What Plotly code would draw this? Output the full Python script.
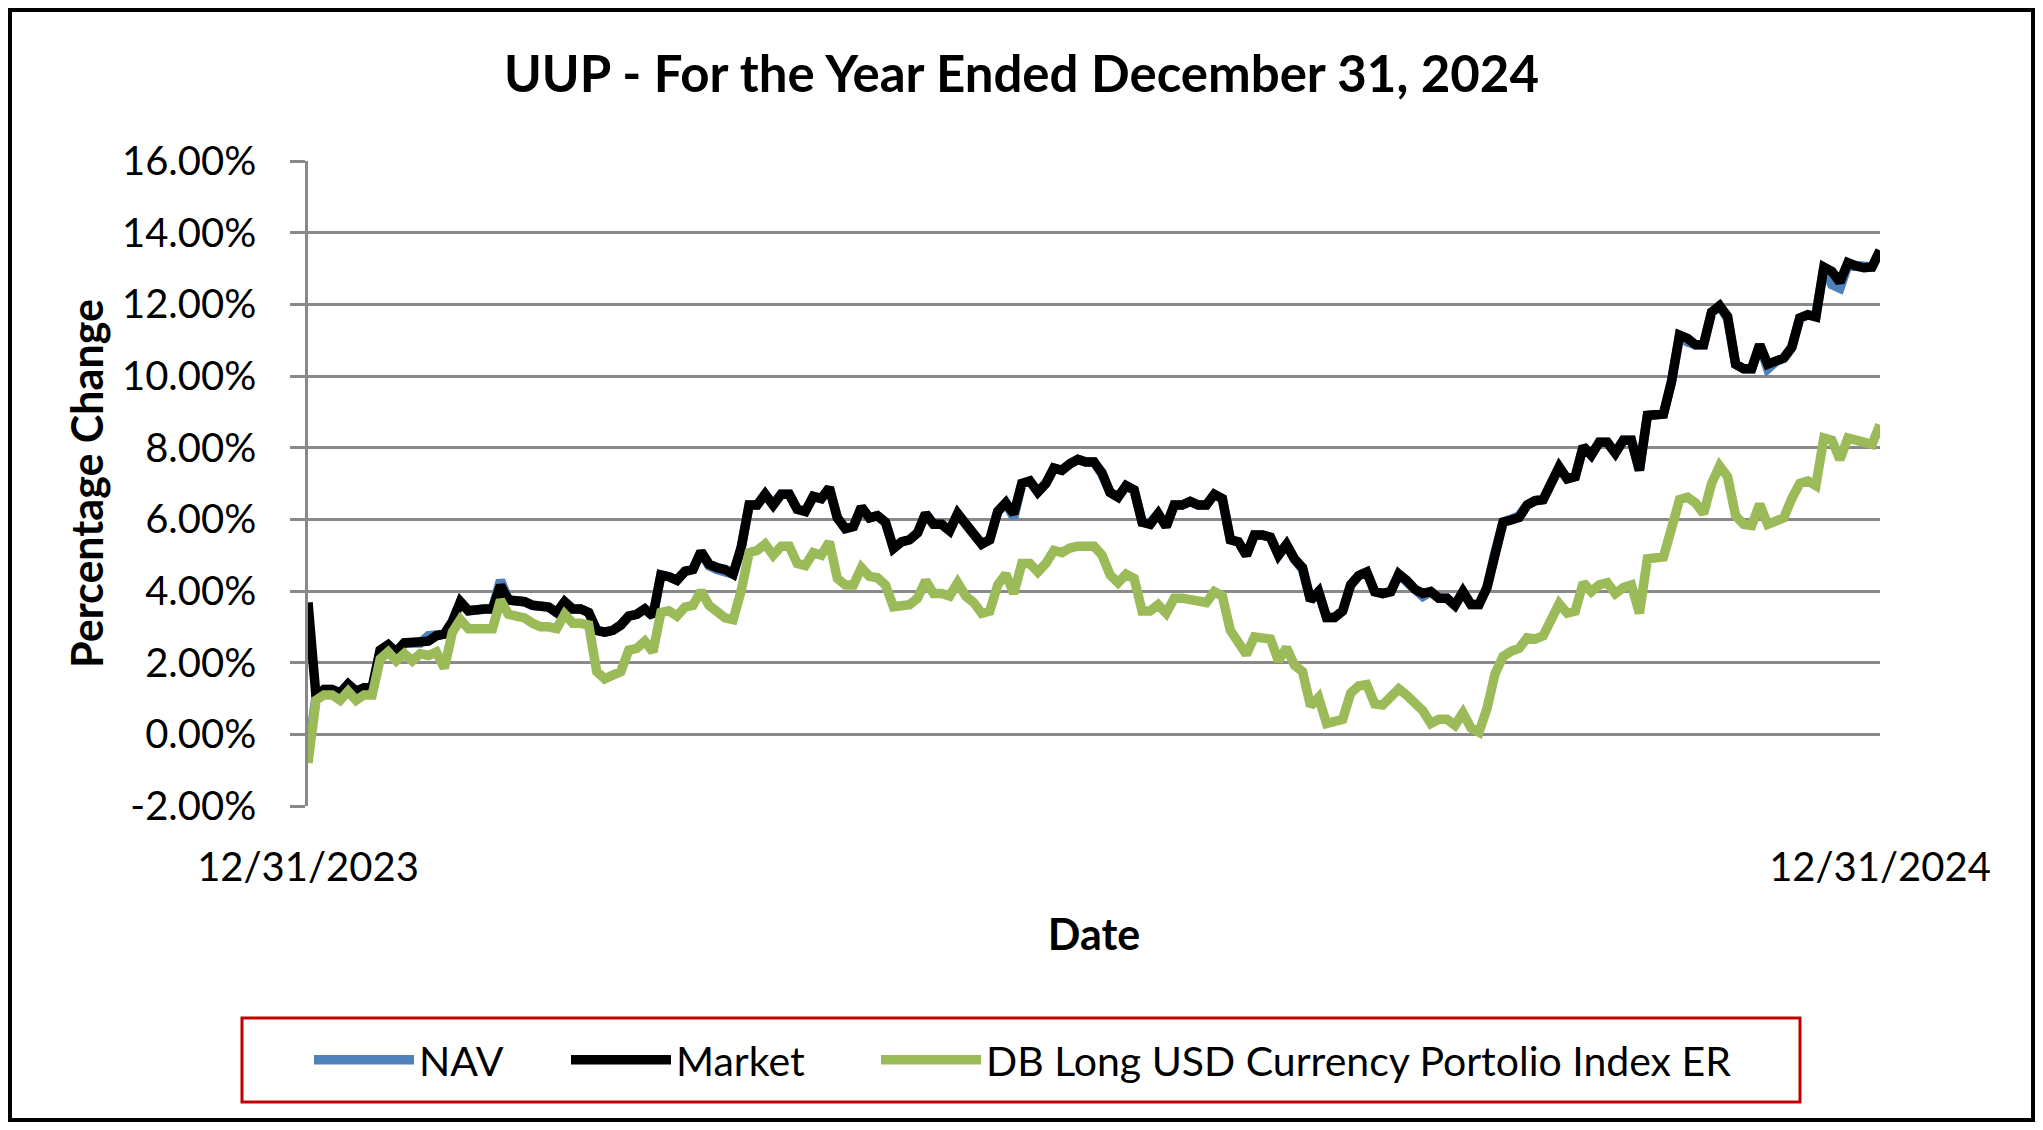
import plotly.graph_objects as go
import pandas as pd

title_text = "UUP - For the Year Ended December 31, 2024"
x_tick_labels = ["12/31/2023", "12/31/2024"]
y_ticks = [-2, 0, 2, 4, 6, 8, 10, 12, 14, 16]
y_tick_labels = ["%.2f%%" % v for v in y_ticks]

market = [
    3.68, 1.05, 1.25, 1.25, 1.15, 1.40, 1.20, 1.30, 1.30, 2.35,
    2.50, 2.30, 2.55, 2.55, 2.55, 2.60, 2.75, 2.80, 3.15, 3.70,
    3.45, 3.50, 3.50, 3.50, 4.15, 3.75, 3.75, 3.70, 3.60, 3.55,
    3.55, 3.40, 3.70, 3.50, 3.50, 3.40, 2.90, 2.85, 2.90, 3.05,
    3.30, 3.35, 3.50, 3.30, 4.45, 4.40, 4.30, 4.55, 4.60, 5.10,
    4.75, 4.65,
    4.60, 4.47, 5.20, 6.40, 6.40, 6.70, 6.40, 6.70, 6.70, 6.28,
    6.22, 6.64, 6.58, 6.88, 6.04, 5.74, 5.80, 6.34, 6.04, 6.10,
    5.92, 5.19, 5.37, 5.43, 5.62, 6.16, 5.86, 5.86, 5.68, 6.16,
    5.86, 5.62, 5.31, 5.43, 6.22, 6.46, 6.16, 7.00, 7.07, 6.76,
    7.00, 7.43, 7.37, 7.55, 7.67, 7.60, 7.60, 7.30, 6.75, 6.62,
    6.94, 6.82, 5.92, 5.86, 6.16, 5.80, 6.40, 6.40, 6.50, 6.40,
    6.40, 6.70, 6.58, 5.43, 5.37, 5.00, 5.56, 5.56, 5.50, 5.00,
    5.30, 4.89, 4.65, 3.74, 3.98, 3.26, 3.26, 3.44, 4.17, 4.43,
    4.53, 3.98, 3.93, 3.98, 4.47, 4.29, 4.05, 3.93, 3.98, 3.80,
    3.80, 3.60, 3.98, 3.62, 3.62, 4.10, 5.07, 5.92, 5.98, 6.05,
    6.40, 6.52, 6.55, 7.07, 7.46, 7.13, 7.19, 8.03, 7.79, 8.15,
    8.15, 7.85, 8.21, 8.21, 7.37, 8.90, 8.94, 8.94, 9.84, 11.14,
    11.05, 10.87, 10.87, 11.78, 11.96, 11.66, 10.33, 10.20, 10.20, 10.87,
    10.33, 10.45, 10.50, 10.80, 11.62, 11.71, 11.65, 13.04, 12.92, 12.62,
    13.16, 13.07, 13.02, 13.04, 13.50,
]

nav = [
    -0.60, 1.05, 1.25, 1.25, 1.15, 1.40, 1.20, 1.30, 1.30, 2.35,
    2.50, 2.30, 2.55, 2.55, 2.55, 2.75, 2.75, 2.80, 3.15, 3.70,
    3.45, 3.50, 3.50, 3.50, 4.30, 3.75, 3.75, 3.70, 3.60, 3.55,
    3.55, 3.40, 3.70, 3.50, 3.50, 3.40, 2.90, 2.85, 2.90, 3.05,
    3.30, 3.35, 3.50, 3.30, 4.45, 4.40, 4.30, 4.55, 4.60, 5.10,
    4.70, 4.60,
    4.55, 4.47, 5.20, 6.40, 6.40, 6.70, 6.40, 6.70, 6.70, 6.28,
    6.22, 6.64, 6.58, 6.88, 6.04, 5.74, 5.80, 6.34, 6.04, 6.10,
    5.92, 5.19, 5.37, 5.43, 5.62, 6.16, 5.86, 5.86, 5.68, 6.16,
    5.86, 5.62, 5.31, 5.43, 6.22, 6.46, 6.05, 7.00, 7.07, 6.76,
    7.00, 7.43, 7.37, 7.55, 7.67, 7.60, 7.60, 7.25, 6.75, 6.62,
    6.94, 6.82, 5.92, 5.90, 6.16, 5.80, 6.40, 6.40, 6.50, 6.40,
    6.40, 6.70, 6.58, 5.43, 5.37, 5.00, 5.56, 5.56, 5.50, 5.00,
    5.30, 4.89, 4.60, 3.74, 3.98, 3.26, 3.26, 3.44, 4.17, 4.43,
    4.53, 3.98, 3.93, 3.98, 4.47, 4.25, 4.05, 3.85, 3.98, 3.80,
    3.80, 3.60, 3.98, 3.62, 3.62, 4.10, 5.07, 5.92, 6.00, 6.10,
    6.40, 6.52, 6.55, 7.07, 7.46, 7.13, 7.19, 8.03, 7.79, 8.15,
    8.15, 7.85, 8.21, 8.21, 7.37, 8.90, 8.94, 8.94, 9.84, 11.10,
    10.95, 10.87, 10.87, 11.78, 11.96, 11.60, 10.33, 10.20, 10.20, 10.87,
    10.20, 10.40, 10.50, 10.80, 11.62, 11.71, 11.65, 13.04, 12.55, 12.45,
    13.10, 13.07, 13.02, 13.04, 13.50,
]

index_er = [
    -0.80, 0.95, 1.10, 1.10, 0.95, 1.20, 0.95, 1.10, 1.10, 2.10,
    2.30, 2.05, 2.25, 2.05, 2.25, 2.20, 2.30, 1.85, 2.85, 3.20,
    2.95, 2.95, 2.95, 2.95, 3.75, 3.35, 3.30, 3.25, 3.10, 3.00,
    3.00, 2.95, 3.35, 3.10, 3.10, 3.05, 1.75, 1.55, 1.65, 1.75,
    2.35, 2.40, 2.60, 2.30, 3.40, 3.45, 3.30, 3.55, 3.60, 4.00,
    3.60, 3.45,
    3.25, 3.20, 4.00, 5.07, 5.13, 5.31, 5.00, 5.25, 5.25, 4.77,
    4.71, 5.07, 5.00, 5.37, 4.35, 4.17, 4.17, 4.65, 4.41, 4.37,
    4.17, 3.56, 3.56, 3.62, 3.80, 4.29, 3.93, 3.93, 3.86, 4.23,
    3.86, 3.68, 3.38, 3.44, 4.17, 4.47, 3.93, 4.77, 4.77, 4.53,
    4.77, 5.13, 5.07, 5.20, 5.25, 5.25, 5.25, 5.00, 4.45, 4.23,
    4.47, 4.35, 3.44, 3.44, 3.62, 3.38, 3.80, 3.80, 3.74, 3.68,
    3.68, 3.98, 3.86, 2.90, 2.60, 2.23, 2.72, 2.66, 2.66, 2.05,
    2.42, 1.93, 1.75, 0.79, 1.03, 0.30, 0.36, 0.42, 1.15, 1.35,
    1.39, 0.85, 0.82, 1.03, 1.27, 1.09, 0.85, 0.66, 0.30, 0.42,
    0.42, 0.25, 0.60, 0.18, 0.06, 0.72, 1.69, 2.17, 2.32, 2.40,
    2.69, 2.66, 2.75, 3.26, 3.65, 3.38, 3.44, 4.23, 3.98, 4.17,
    4.23, 3.93, 4.10, 4.17, 3.38, 4.90, 4.90, 4.95, 5.74, 6.55,
    6.62, 6.46, 6.16, 7.00, 7.49, 7.19, 6.10, 5.86, 5.83, 6.42,
    5.86, 5.98, 6.04, 6.58, 7.00, 7.07, 6.94, 8.27, 8.21, 7.67,
    8.27, 8.21, 8.12, 8.09, 8.64,
]

dates = pd.date_range("2023-12-31", "2024-12-31", periods=len(market))

# figure is placed by the page with an 8px body margin -> size to fit the window
W, H = 2027, 1114
L, T, PW, PH = 300, 153, 1572, 645
R, B = W - L - PW, H - T - PH
BOT = T + PH
FONT = "Lato"
GRID = "#898989"
LW = 9.5


def px_x(x):
    return (x - L) / PW


def px_y(y):
    return (BOT - y) / PH


fig = go.Figure()
fig.add_trace(go.Scatter(x=dates, y=nav, name="NAV", mode="lines",
                         line=dict(color="#4F81BD", width=LW), legend="legend"))
fig.add_trace(go.Scatter(x=dates, y=market, name="Market", mode="lines",
                         line=dict(color="#000000", width=LW), legend="legend2"))
fig.add_trace(go.Scatter(x=dates, y=index_er, name="DB Long USD Currency Portolio Index ER",
                         mode="lines", line=dict(color="#9BBB59", width=LW),
                         legend="legend3"))

xr = [dates[0], dates[-1]]


def leg(xpix):
    return dict(orientation="h", x=px_x(xpix), xanchor="left",
                y=px_y(1052), yanchor="middle", borderwidth=0,
                bgcolor="rgba(0,0,0,0)", font=dict(size=41, family=FONT),
                itemwidth=100)


fig.update_layout(
    width=W, height=H,
    margin=dict(l=L, r=R, t=T, b=B, autoexpand=False),
    paper_bgcolor="white", plot_bgcolor="white",
    font=dict(family=FONT, color="black", size=40),
    title=dict(text=title_text, x=0.5, xref="container", xanchor="center",
               y=1 - 66 / H, yref="container", yanchor="middle",
               font=dict(family=FONT, size=51, weight="bold", color="black")),
    xaxis=dict(type="date", range=xr, tickvals=xr, ticktext=x_tick_labels,
               showgrid=False, showline=False, zeroline=False, ticks="",
               ticklabelstandoff=34, tickfont=dict(size=40),
               title=dict(text="Date", standoff=30,
                          font=dict(size=43, weight="bold"))),
    xaxis2=dict(type="date", range=xr, overlaying="x", anchor="free",
                position=2 / 18, tickvals=xr, showticklabels=False,
                showgrid=False, zeroline=False, showline=True,
                linecolor=GRID, linewidth=2.5, ticks="outside", ticklen=15,
                tickwidth=2.5, tickcolor=GRID),
    yaxis=dict(range=[-2, 16], tickvals=y_ticks, ticktext=y_tick_labels,
               showgrid=True, gridcolor=GRID, gridwidth=2.5, zeroline=False,
               showline=True, linecolor=GRID, linewidth=2.5,
               ticks="outside", ticklen=15, tickwidth=2.5, tickcolor=GRID,
               ticklabelstandoff=26, tickfont=dict(size=40),
               title=dict(text="Percentage Change", standoff=5,
                          font=dict(size=43, weight="bold"))),
    showlegend=True,
    legend=leg(311 - 10),
    legend2=leg(568 - 10),
    legend3=leg(878 - 10),
)

# legend frame
fig.add_shape(type="rect", xref="paper", yref="paper",
              x0=px_x(234), x1=px_x(1792), y0=px_y(1094), y1=px_y(1010),
              line=dict(color="#C00000", width=3), fillcolor="rgba(0,0,0,0)",
              layer="below")

# outer chart frame
fig.add_shape(type="rect", xref="paper", yref="paper",
              x0=px_x(2), x1=px_x(W - 2), y0=px_y(H - 2), y1=px_y(2),
              line=dict(color="black", width=4), fillcolor="rgba(0,0,0,0)",
              layer="above")

fig.write_html("out.html")
